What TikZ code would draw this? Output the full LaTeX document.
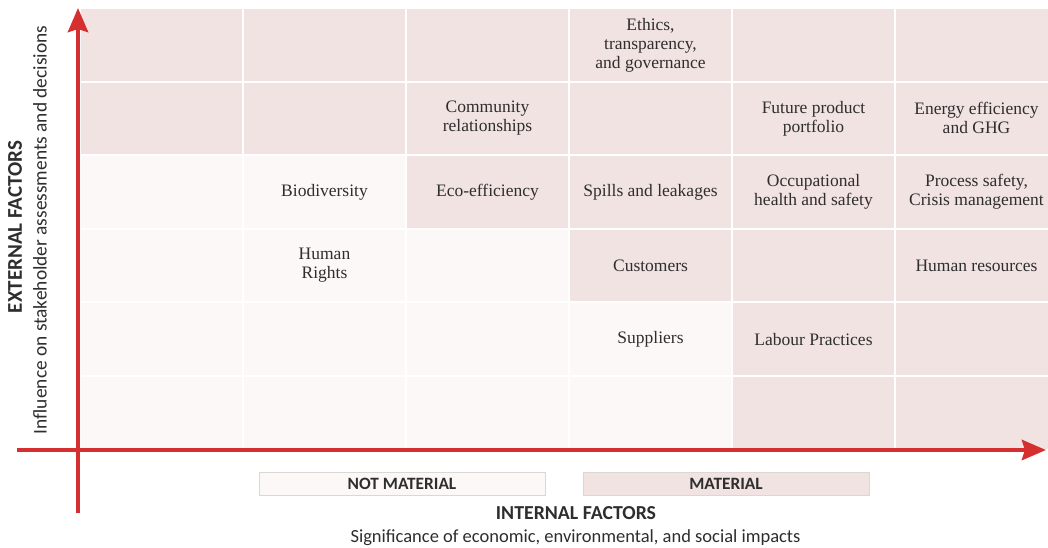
\documentclass[tikz,border=0pt]{standalone}
\usepackage{fontspec}
\setmainfont{Liberation Serif}
\newfontfamily\csans{Carlito}
\usetikzlibrary{arrows.meta}
\definecolor{pinkc}{HTML}{F1E3E1}
\definecolor{lightc}{HTML}{FCF8F7}
\definecolor{axisred}{HTML}{D62F2F}
\definecolor{txt}{HTML}{2E2E2E}
\definecolor{boxline}{HTML}{DCD6D4}
\newcommand\mcell[3]{\fill[#3] ({80+163*#1+1},{8+73.6*#2+1}) rectangle ({80+163*#1+162},{8+73.6*#2+72.6});}
\begin{document}
\begin{tikzpicture}[x=1pt,y=-1pt,
  celltext/.style={text=txt, align=center, font=\fontsize{17.5}{19}\selectfont},
  axisline/.style={draw=axisred, line width=4.5pt, -{Stealth[length=24pt,width=20pt,inset=3pt]}},
  legendbox/.style={draw=boxline, line width=0.8pt, minimum width=286pt, minimum height=23pt, text=txt, font=\csans\bfseries\fontsize{17.3}{19}\selectfont},
  axislabel/.style={text=txt, font=\csans\fontsize{18.5}{21}\selectfont},
  axistitle/.style={text=txt, font=\csans\bfseries\fontsize{19.8}{22}\selectfont}]
\useasboundingbox (0,0) rectangle (1048,548);
\fill[white] (0,0) rectangle (1048,548);
\begin{scope}
\clip (0,0) rectangle (1048,548);
\foreach \c in {0,...,5} { \foreach \r in {0,...,5} { \mcell{\c}{\r}{lightc} } }
\foreach \c/\r in {0/0,1/0,2/0,3/0,4/0,5/0, 0/1,1/1,2/1,3/1,4/1,5/1, 2/2,3/2,4/2,5/2, 3/3,4/3,5/3, 4/4,5/4, 4/5,5/5} { \mcell{\c}{\r}{pinkc} }
\end{scope}
% cell texts
\node[celltext] (ethics) at ({80+163*3+81.5},{8+73.6*0+37.5}) {Ethics,\\transparency,\\and governance};
\node[celltext] (community) at ({80+163*2+81.5},{8+73.6*1+36.8}) {Community\\relationships};
\node[celltext] (future) at ({80+163*4+81.5},{8+73.6*1+36.8}) {Future product\\portfolio};
\node[celltext] (energy) at ({80+163*5+81.5},{8+73.6*1+36.8}) {Energy efficiency\\and GHG};
\node[celltext] (bio) at ({80+163*1+81.5},{8+73.6*2+36.8}) {Biodiversity};
\node[celltext] (eco) at ({80+163*2+81.5},{8+73.6*2+36.8}) {Eco-efficiency};
\node[celltext] (spills) at ({80+163*3+81.5},{8+73.6*2+36.8}) {Spills and leakages};
\node[celltext] (ohs) at ({80+163*4+81.5},{8+73.6*2+36.8}) {Occupational\\health and safety};
\node[celltext] (process) at ({80+163*5+81.5},{8+73.6*2+36.8}) {Process safety,\\Crisis management};
\node[celltext] (human) at ({80+163*1+81.5},{8+73.6*3+36.8}) {Human\\Rights};
\node[celltext] (customers) at ({80+163*3+81.5},{8+73.6*3+36.8}) {Customers};
\node[celltext] (hr) at ({80+163*5+81.5},{8+73.6*3+36.8}) {Human resources};
\node[celltext] (suppliers) at ({80+163*3+81.5},{8+73.6*4+36.8}) {Suppliers};
\node[celltext] (labour) at ({80+163*4+81.5},{8+73.6*4+36.8}) {Labour Practices};
% axes
\coordinate (xs) at (17,450);
\coordinate (xe) at (1046,450);
\coordinate (ys) at (78,513);
\coordinate (ye) at (78,8);
\draw[axisline] (xs) -- (xe);
\draw[axisline] (ys) -- (ye);
% legend
\node[legendbox, fill=lightc] (notmat) at (402,484) {NOT MATERIAL};
\node[legendbox, fill=pinkc] (mat) at (726,484) {MATERIAL};
\node[axistitle] (internal) at (576,513) {INTERNAL FACTORS};
\node[axislabel] (signif) at (575.5,538) {Significance of economic, environmental, and social impacts};
\node[axistitle, font=\csans\bfseries\fontsize{21}{23}\selectfont, rotate=90] (external) at (15,227) {EXTERNAL FACTORS};
\node[axislabel, font=\csans\fontsize{19.4}{22}\selectfont, rotate=90] (influence) at (40,230) {Influence on stakeholder assessments and decisions};
\end{tikzpicture}
\end{document}
